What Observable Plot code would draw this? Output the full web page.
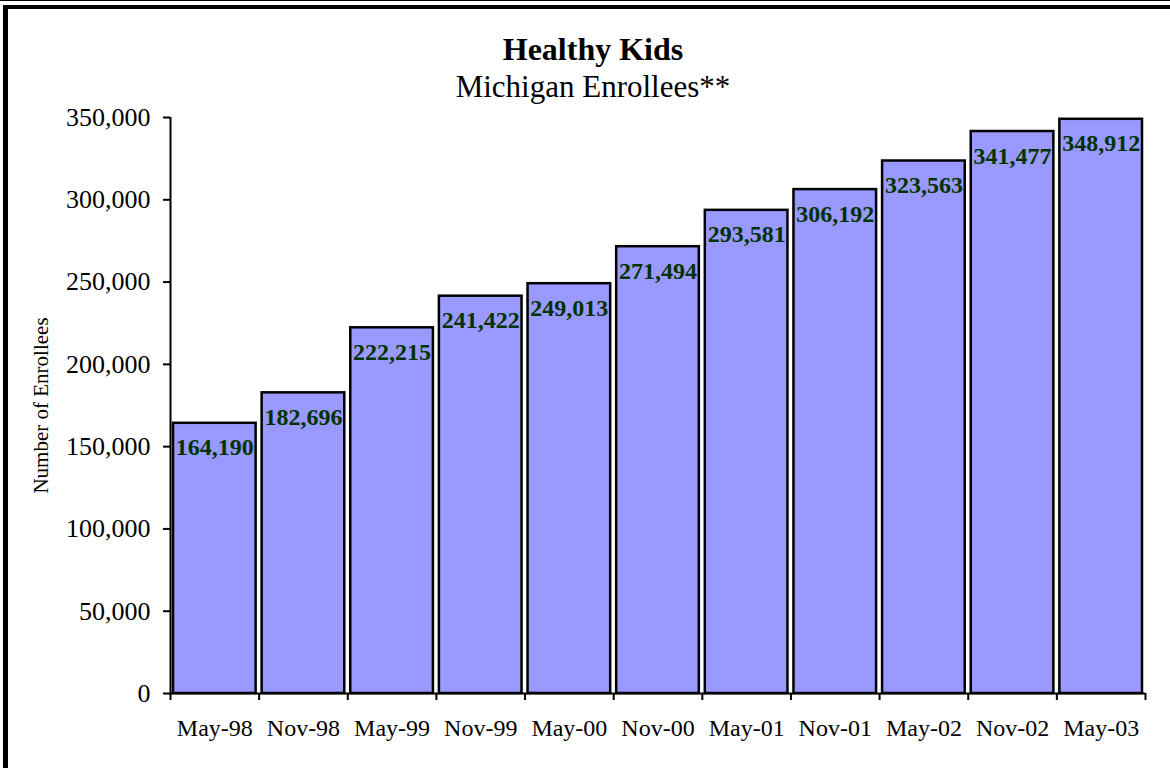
<!DOCTYPE html>
<html>
<head>
<meta charset="utf-8">
<script src="https://cdn.jsdelivr.net/npm/d3@7"></script>
<script src="https://cdn.jsdelivr.net/npm/@observablehq/plot@0.6"></script>
<style>
  html, body { margin: 0; padding: 0; background: white; }
  #wrap { position: relative; width: 1170px; height: 768px; overflow: hidden; background: white;
          font-family: "Liberation Serif", "Times New Roman", serif; color: black; }
  #thin { position: absolute; left: 0; top: 0; width: 1170px; height: 1px; background: black; }
  #frame { position: absolute; left: 3px; top: 5px; width: 1200px; height: 800px;
           border-top: 4px solid black; border-left: 5px solid black; box-sizing: border-box; }
  .title { position: absolute; left: 0; width: 1186px; text-align: center; line-height: 1; }
  #t1 { top: 33px; font-size: 32px; font-weight: bold; }
  #t2 { top: 71px; font-size: 31px; }
  #chart { position: absolute; left: 0; top: 0; }
</style>
</head>
<body>
<div id="wrap">
  <div id="thin"></div>
  <div id="frame"></div>
  <div id="chart"></div>
  <div class="title" id="t1">Healthy Kids</div>
  <div class="title" id="t2">Michigan Enrollees**</div>
</div>
<script>
const dates = ["May-98", "Nov-98", "May-99", "Nov-99", "May-00", "Nov-00", "May-01", "Nov-01", "May-02", "Nov-02", "May-03"];
const enrollees = [164190, 182696, 222215, 241422, 249013, 271494, 293581, 306192, 323563, 341477, 348912];
const yTicks = [0, 50000, 100000, 150000, 200000, 250000, 300000, 350000];
const yLabel = "Number of Enrollees";

const data = dates.map((d, i) => ({date: d, i, value: enrollees[i]}));
const fmt = d3.format(",");

const chart = Plot.plot({
  width: 1170,
  height: 768,
  marginTop: 117,
  marginBottom: 75,
  marginLeft: 170,
  marginRight: 25,
  x: {domain: [0, dates.length], axis: null},
  y: {domain: [0, 350000], axis: null},
  style: {fontFamily: "'Liberation Serif', 'Times New Roman', serif", background: "transparent", color: "black"},
  marks: [
    Plot.rectY(data, {x1: d => d.i, x2: d => d.i + 1, y: "value", fill: "#9999ff", stroke: "black", strokeWidth: 2.5, insetLeft: 3, insetRight: 3}),
    Plot.ruleX([0], {y1: 0, y2: 350000, stroke: "black", strokeWidth: 2}),
    Plot.ruleY([0], {stroke: "black", strokeWidth: 2}),
    Plot.axisY({ticks: yTicks, tickFormat: fmt, tickSize: 7, tickPadding: 13, fontSize: 26, strokeWidth: 2, label: null}),
    Plot.axisX({ticks: d3.range(0, dates.length + 1), tickFormat: () => "", tickSize: 7, strokeWidth: 2, label: null}),
    Plot.axisX({ticks: dates.map((d, i) => i + 0.5), tickFormat: t => dates[Math.floor(t)], tickSize: 0, tickPadding: 25, fontSize: 24, label: null}),
    Plot.text(data, {x: d => d.i + 0.5, y: "value", text: d => fmt(d.value), lineAnchor: "top", dy: 15, fontWeight: "bold", fontSize: 24, fill: "#003300"}),
    Plot.text([yLabel], {frameAnchor: "left", textAnchor: "middle", rotate: -90, dx: -129, fontSize: 21, fill: "black"})
  ]
});
document.getElementById("chart").appendChild(chart);
</script>
</body>
</html>
